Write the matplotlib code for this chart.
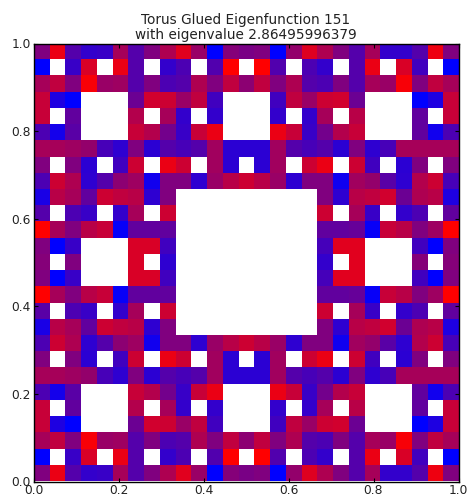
import numpy as np
import matplotlib
matplotlib.use("Agg")
import matplotlib.pyplot as plt
from matplotlib.colors import LinearSegmentedColormap

H = np.nan  # hole in the carpet

eigenvalue = "2.86495996379"
ticks = [0.0, 0.2, 0.4, 0.6, 0.8, 1.0]

# top row first, 0 = blue, 1 = red
rows = [
    [.50, .92, .33, .20, .22, .65, .33, .50, .68, .88, .60, .00, .52, .48, .50, .00, .58, .87, .68, .50, .33, .65, .20, .20, .33, .93, .50],
    [.00, H, .22, .85, H, .92, .33, H, .20, .30, H, .32, 1.0, H, 1.0, .32, H, .30, .20, H, .33, .92, H, .85, .25, H, .00],
    [.65, .75, .50, .97, .60, .62, .33, .50, .30, .33, .68, .50, .75, .55, .75, .50, .68, .33, .30, .50, .33, .65, .60, .97, .50, .75, .65],
    [.78, .12, .00, H, H, H, .42, .82, .80, .60, .75, .25, H, H, H, .25, .75, .60, .80, .82, .42, H, H, H, .00, .12, .78],
    [.78, H, .38, H, H, H, .70, H, .65, .20, H, .20, H, H, H, .20, H, .20, .65, H, .72, H, H, H, .38, H, .78],
    [.30, .08, .35, H, H, H, .78, .70, .45, .22, .78, .92, H, H, H, .92, .78, .22, .45, .70, .78, H, H, H, .38, .07, .30],
    [.65, .65, .62, .58, .28, .18, .50, .17, .33, .28, .33, .63, .17, .17, .17, .63, .33, .28, .33, .17, .50, .18, .28, .65, .65, .65, .65],
    [.50, H, .50, .17, H, .25, .80, H, .92, .80, H, .63, .17, H, .17, .63, H, .80, .92, H, .80, .25, H, .17, .50, H, .50],
    [.30, .80, .68, .18, .33, .55, .62, .07, .50, .50, .18, .60, .72, .80, .72, .60, .18, .50, .50, .06, .63, .58, .35, .18, .70, .80, .28],
    [.10, .72, .65, .38, .80, .75, .72, .18, .50, H, H, H, H, H, H, H, H, H, .50, .18, .72, .75, .82, .42, .68, .72, .12],
    [.33, H, .30, .22, H, .20, .65, H, .80, H, H, H, H, H, H, H, H, H, .80, H, .65, .22, H, .20, .30, H, .38],
    [1.0, .65, .50, .72, .78, .03, .38, .38, .38, H, H, H, H, H, H, H, H, H, .38, .38, .40, .03, .78, .72, .50, .62, 1.0],
    [.50, .00, .22, H, H, H, .85, .85, .25, H, H, H, H, H, H, H, H, H, .27, .88, .88, H, H, H, .25, .00, .50],
    [.52, H, .50, H, H, H, .85, H, .18, H, H, H, H, H, H, H, H, H, .20, H, .88, H, H, H, .52, H, .52],
    [.50, .00, .22, H, H, H, .85, .85, .25, H, H, H, H, H, H, H, H, H, .27, .88, .88, H, H, H, .25, .00, .50],
    [1.0, .65, .50, .72, .78, .03, .38, .38, .38, H, H, H, H, H, H, H, H, H, .38, .38, .40, .03, .78, .72, .50, .62, 1.0],
    [.35, H, .30, .22, H, .20, .65, H, .80, H, H, H, H, H, H, H, H, H, .80, H, .65, .22, H, .20, .30, H, .38],
    [.10, .72, .65, .38, .80, .75, .72, .18, .50, H, H, H, H, H, H, H, H, H, .50, .18, .72, .75, .82, .42, .68, .72, .12],
    [.30, .80, .68, .18, .33, .55, .62, .07, .50, .50, .18, .60, .72, .80, .72, .60, .18, .50, .50, .06, .63, .58, .35, .18, .70, .80, .28],
    [.50, H, .50, .17, H, .25, .80, H, .92, .80, H, .63, .17, H, .17, .63, H, .80, .92, H, .80, .25, H, .17, .50, H, .50],
    [.65, .65, .62, .58, .28, .18, .50, .17, .33, .28, .33, .63, .17, .17, .17, .63, .33, .28, .33, .17, .50, .18, .28, .65, .65, .65, .65],
    [.30, .08, .35, H, H, H, .78, .70, .45, .22, .78, .92, H, H, H, .92, .78, .22, .45, .70, .78, H, H, H, .38, .07, .30],
    [.78, H, .38, H, H, H, .70, H, .65, .20, H, .20, H, H, H, .20, H, .20, .65, H, .72, H, H, H, .38, H, .78],
    [.78, .12, .00, H, H, H, .42, .82, .80, .60, .75, .25, H, H, H, .25, .75, .60, .80, .82, .42, H, H, H, .00, .12, .78],
    [.65, .75, .50, .97, .60, .62, .33, .50, .30, .33, .68, .50, .75, .55, .75, .50, .68, .33, .30, .50, .33, .65, .60, .97, .50, .75, .65],
    [.00, H, .22, .85, H, .92, .33, H, .20, .30, H, .32, 1.0, H, 1.0, .32, H, .30, .20, H, .33, .92, H, .85, .25, H, .00],
    [.50, .92, .33, .20, .22, .65, .33, .50, .68, .88, .60, .00, .52, .48, .50, .00, .58, .87, .68, .50, .33, .65, .20, .20, .33, .93, .50],
]

cmap = LinearSegmentedColormap.from_list("blue_red", ["#0000ff", "#ff0000"])
cmap.set_bad("white")

fig = plt.figure(figsize=(4.71, 4.97), dpi=100)
ax = fig.add_axes([33.5 / 471, 1 - 481.5 / 497, 425 / 471, 438 / 497])
ax.imshow(np.ma.masked_invalid(rows), cmap=cmap, vmin=0, vmax=1, extent=[0, 1, 0, 1],
          origin="upper", aspect="auto", interpolation="nearest")

ax.set_xticks(ticks)
ax.set_yticks(ticks)
ax.tick_params(direction="in", top=True, right=True, length=3, width=0.8, labelsize=8.8, labelcolor="#222222", pad=2)
ax.set_title(f"Torus Glued Eigenfunction 151\nwith eigenvalue {eigenvalue}", fontsize=9.8, pad=3, linespacing=1.15, color="#222222")
for side in ax.spines.values():
    side.set_linewidth(1.0)

fig.savefig("out.png", dpi=100)
